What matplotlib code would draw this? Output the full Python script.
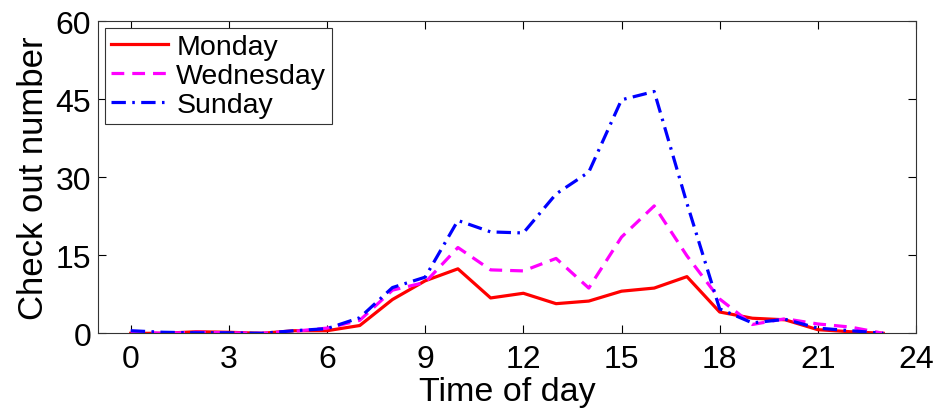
import matplotlib
matplotlib.use("Agg")
import matplotlib.pyplot as plt

plt.rcParams.update({
    "font.family": ["Liberation Sans", "DejaVu Sans"],
    "font.size": 23,
})

hours = list(range(24))
monday = [0, 0, 0.3, 0.2, 0, 0.5, 0.5, 1.5, 6.5, 10.1, 12.4, 6.8, 7.7, 5.7, 6.2, 8.1,
          8.7, 10.9, 4.1, 2.9, 2.6, 0.7, 0.3, 0]
wednesday = [0.3, 0, 0.2, 0.1, 0, 0.4, 1.0, 2.5, 8.3, 9.8, 16.5, 12.2, 12.0, 14.4, 8.7, 18.5,
             24.5, 14.9, 6.6, 1.7, 2.8, 1.8, 1.2, 0]
sunday = [0.5, 0.2, 0.1, 0.1, 0, 0.5, 0.9, 3.0, 8.8, 10.8, 21.7, 19.5, 19.3, 26.8, 31.0, 44.9,
          46.5, 25.0, 4.7, 2.0, 2.7, 1.0, 0.5, 0]

fig = plt.figure(figsize=(9.38, 4.1), dpi=100)
ax = fig.add_axes([0.1045, 0.1846, 0.872, 0.761])

ax.plot(hours, monday, color="red", linewidth=2.3, linestyle="-", label="Monday")
ax.plot(hours, wednesday, color="magenta", linewidth=2.3, linestyle=(0, (4, 2.5)), label="Wednesday")
ax.plot(hours, sunday, color="blue", linewidth=2.3, linestyle=(0, (4.5, 2, 0.8, 2)), label="Sunday")

ax.set_xlim(-1, 24)
ax.set_ylim(0, 60)
ax.set_xticks(range(0, 25, 3))
ax.set_yticks(range(0, 61, 15))
ax.tick_params(direction="in", top=True, right=True, length=6, width=0.8)
ax.tick_params(axis="x", pad=8)
ax.tick_params(axis="y", pad=5)
for s in ax.spines.values():
    s.set_color("#333333")
ax.set_xlabel("Time of day", fontsize=24.5, labelpad=1)
ax.set_ylabel("Check out number", fontsize=25, labelpad=4)

leg = ax.legend(loc="upper left", fontsize=20.5, fancybox=False, framealpha=1,
                edgecolor="#333333", handlelength=2.0, handletextpad=0.3,
                borderaxespad=0.25, labelspacing=0.1, borderpad=0.2)
leg.get_frame().set_linewidth(0.8)

fig.savefig("out.png", dpi=100)
